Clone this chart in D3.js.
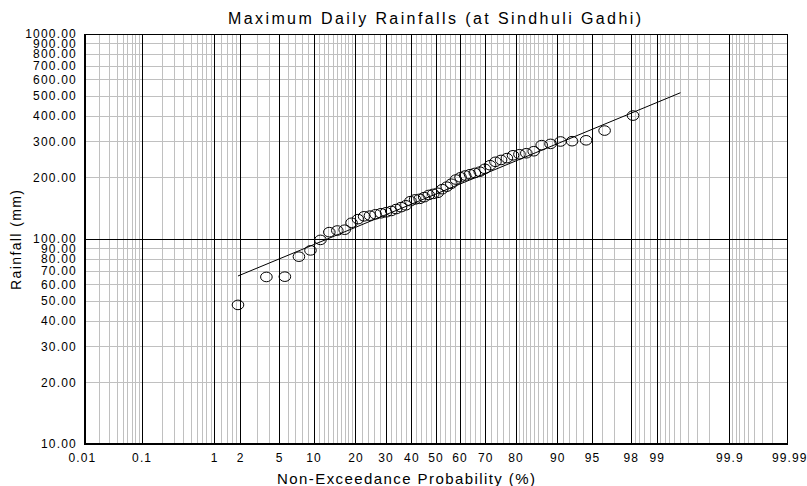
<!DOCTYPE html>
<html>
<head>
<meta charset="utf-8">
<script src="https://cdn.jsdelivr.net/npm/d3@7"></script>
<style>
  body { margin: 0; background: #fff; }
  text { font-family: "Liberation Sans", Arial, sans-serif; fill: #000; }
</style>
</head>
<body>
<div id="chart"></div>
<script>
// plotting positions (non-exceedance %, Weibull i/(n+1)) and sorted rainfalls (mm)
const probabilities = [1.89, 3.77, 5.66, 7.55, 9.43, 11.32, 13.21, 15.09, 16.98, 18.87,
  20.75, 22.64, 24.53, 26.42, 28.30, 30.19, 32.08, 33.96, 35.85, 37.74,
  39.62, 41.51, 43.40, 45.28, 47.17, 49.06, 50.94, 52.83, 54.72, 56.60,
  58.49, 60.38, 62.26, 64.15, 66.04, 67.92, 69.81, 71.70, 73.58, 75.47,
  77.36, 79.25, 81.13, 83.02, 84.91, 86.79, 88.68, 90.57, 92.45, 94.34,
  96.23, 98.11]
const rainfall = [47.7, 65.3, 65.5, 82, 88, 99, 108, 110, 111, 120,
  125, 129, 130, 132, 133.5, 135, 137, 140, 143, 146,
  153, 156, 157, 160, 164, 166, 168, 175, 180, 186,
  195, 200, 204, 207, 210, 213, 220, 229, 238, 243,
  248, 256, 259, 262, 268, 287, 291, 299, 300, 303,
  338, 400]

// fitted line end points [probability %, rainfall mm]
const fitLine = [[1.89, 66], [99.5, 517]]

const xLabels = [0.01, 0.1, 1, 2, 5, 10, 20, 30, 40, 50, 60, 70, 80, 90, 95, 98, 99, 99.9, 99.99]
const xMajor = [0.1, 1, 2, 5, 10, 20, 30, 40, 50, 60, 70, 80, 90, 95, 98, 99, 99.9]
const xMinor = [0.02, 0.03, 0.04, 0.05, 0.06, 0.07, 0.08, 0.09,
  0.2, 0.3, 0.4, 0.5, 0.6, 0.7, 0.8, 0.9,
  1.2, 1.4, 1.6, 1.8, 3, 4, 6, 7, 8, 9,
  11, 12, 13, 14, 15, 16, 17, 18, 19,
  22, 24, 26, 28, 32, 34, 36, 38, 42, 44, 46, 48,
  52, 54, 56, 58, 62, 64, 66, 68, 72, 74, 76, 78,
  81, 82, 83, 84, 85, 86, 87, 88, 89, 91, 92, 93, 94, 96, 97,
  98.2, 98.4, 98.6, 98.8, 99.1, 99.2, 99.3, 99.4, 99.5, 99.6, 99.7, 99.8,
  99.91, 99.92, 99.93, 99.94, 99.95, 99.96, 99.97, 99.98]
const yLabels = [10, 20, 30, 40, 50, 60, 70, 80, 90, 100, 200, 300, 400, 500, 600, 700, 800, 900, 1000]
const yMinor = [20, 30, 40, 50, 60, 70, 80, 90, 200, 300, 400, 500, 600, 700, 800, 900]

// inverse standard normal CDF (Acklam)
function normInv(p) {
  const a = [-39.69683028665376, 220.9460984245205, -275.9285104469687, 138.3577518672690, -30.66479806614716, 2.506628277459239]
  const b = [-54.47609879822406, 161.5858368580409, -155.6989798598866, 66.80131188771972, -13.28068155288572]
  const c = [-0.007784894002430293, -0.3223964580411365, -2.400758277161838, -2.549732539343734, 4.374664141464968, 2.938163982698783]
  const d = [0.007784695709041462, 0.3224671290700398, 2.445134137142996, 3.754408661907416]
  const pl = 0.02425
  let q, r
  if (p < pl) {
    q = Math.sqrt(-2 * Math.log(p))
    return (((((c[0]*q+c[1])*q+c[2])*q+c[3])*q+c[4])*q+c[5]) / ((((d[0]*q+d[1])*q+d[2])*q+d[3])*q+1)
  } else if (p <= 1 - pl) {
    q = p - 0.5; r = q*q
    return (((((a[0]*r+a[1])*r+a[2])*r+a[3])*r+a[4])*r+a[5])*q / (((((b[0]*r+b[1])*r+b[2])*r+b[3])*r+b[4])*r+1)
  } else {
    q = Math.sqrt(-2 * Math.log(1 - p))
    return -(((((c[0]*q+c[1])*q+c[2])*q+c[3])*q+c[4])*q+c[5]) / ((((d[0]*q+d[1])*q+d[2])*q+d[3])*q+1)
  }
}

const width = 807, height = 486
const plotL = 84, plotR = 787, plotT = 34, plotB = 444

const zScale = d3.scaleLinear().domain([-3.696, 3.696]).range([plotL, plotR])
const x = p => zScale(normInv(p / 100))
const y = d3.scaleLog().domain([10, 1000]).range([plotB, plotT])
const px = v => Math.round(v) + 0.5

const svg = d3.select("#chart").append("svg")
  .attr("width", width)
  .attr("height", height)

const grid = svg.append("g").attr("shape-rendering", "crispEdges")

// minor grid
grid.selectAll(".vminor").data(xMinor).enter().append("line")
  .attr("x1", d => px(x(d))).attr("x2", d => px(x(d)))
  .attr("y1", plotT).attr("y2", plotB)
  .style("stroke", "#c0c0c0")
grid.selectAll(".hminor").data(yMinor).enter().append("line")
  .attr("x1", plotL).attr("x2", plotR)
  .attr("y1", d => px(y(d))).attr("y2", d => px(y(d)))
  .style("stroke", "#c0c0c0")

// major grid
grid.selectAll(".vmajor").data(xMajor).enter().append("line")
  .attr("x1", d => px(x(d))).attr("x2", d => px(x(d)))
  .attr("y1", plotT).attr("y2", plotB)
  .style("stroke", "#000")
grid.append("line")
  .attr("x1", plotL).attr("x2", plotR)
  .attr("y1", px(y(100))).attr("y2", px(y(100)))
  .style("stroke", "#000")

// frame
grid.append("rect")
  .attr("x", plotL + 0.5).attr("y", plotT + 0.5)
  .attr("width", plotR - plotL).attr("height", plotB - plotT)
  .style("fill", "none").style("stroke", "#000")
grid.append("line").attr("x1", plotL + 1.5).attr("x2", plotL + 1.5).attr("y1", plotT).attr("y2", plotB + 1)
  .style("stroke", "#000")
grid.append("line").attr("x1", plotL).attr("x2", plotR + 1).attr("y1", plotB - 0.5).attr("y2", plotB - 0.5)
  .style("stroke", "#000")

// fitted line
svg.append("path")
  .datum(fitLine)
  .attr("d", d3.line().x(d => x(d[0])).y(d => y(d[1])))
  .style("fill", "none")
  .style("stroke", "#000")
  .style("stroke-width", 1)

// observed points
svg.selectAll(".pt").data(probabilities).enter().append("ellipse")
  .attr("cx", d => x(d))
  .attr("cy", (d, i) => y(rainfall[i]))
  .attr("rx", 5.8).attr("ry", 4.8)
  .style("fill", "none")
  .style("stroke", "#000")
  .style("stroke-width", 1)

// y tick labels (top ones crowd each other, as in the original)
svg.selectAll(".ylab").data(yLabels).enter().append("text")
  .attr("x", 77)
  .attr("y", d => y(d))
  .attr("dy", "0.36em")
  .style("text-anchor", "end")
  .style("font-size", "12px")
  .style("letter-spacing", "1.2px")
  .text(d3.format(".2f"))

// x tick labels
svg.selectAll(".xlab").data(xLabels).enter().append("text")
  .attr("x", d => x(d) + 0.5)
  .attr("y", 462)
  .style("text-anchor", "middle")
  .style("font-size", "12px")
  .style("letter-spacing", "1.1px")
  .text(d => d)

// titles
svg.append("text")
  .attr("x", 228).attr("y", 24)
  .attr("textLength", 413).attr("lengthAdjust", "spacing")
  .style("font-size", "16px")
  .text("Maximum Daily Rainfalls (at Sindhuli Gadhi)")

svg.append("text")
  .attr("x", 277).attr("y", 484)
  .attr("textLength", 258).attr("lengthAdjust", "spacing")
  .style("font-size", "15px")
  .text("Non-Exceedance Probability (%)")

svg.append("text")
  .attr("transform", "translate(21,290) rotate(-90)")
  .attr("textLength", 100).attr("lengthAdjust", "spacing")
  .style("font-size", "14px")
  .text("Rainfall (mm)")
</script>
</body>
</html>
